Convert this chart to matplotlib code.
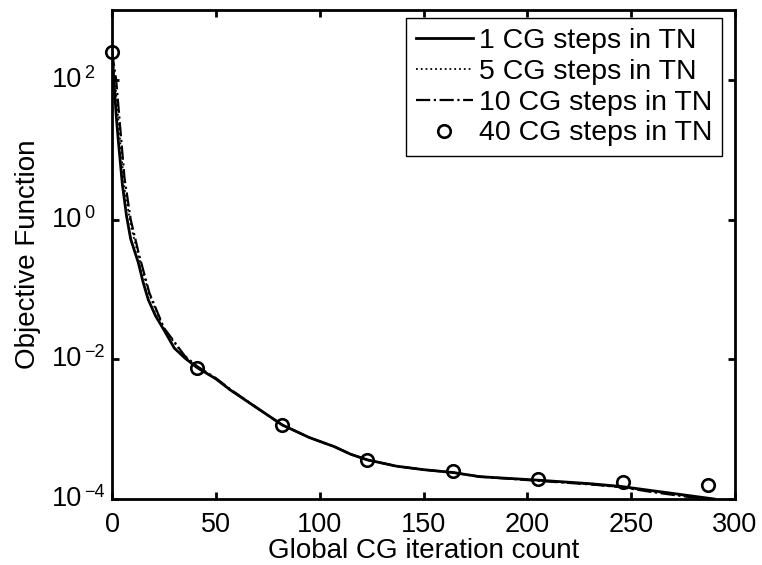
import numpy as np
import matplotlib
matplotlib.use("Agg")
import matplotlib.pyplot as plt
import matplotlib.transforms as mtransforms

plt.rcParams.update({"font.family": "Liberation Sans", "axes.linewidth": 2.0})

# values (log10 of the objective)
x_cg1 = [0, 1, 2, 3, 5, 7, 9, 12.7, 15, 17.5, 21, 25, 30, 35, 41, 50, 57, 70, 82, 95, 107,
         115, 123, 137, 150, 164, 177, 205, 230, 245, 260, 290]
lg_cg1 = [2.4, 1.95, 1.5, 1.14, 0.5, 0.05, -0.28, -0.62, -0.9, -1.15, -1.38, -1.58, -1.84,
          -1.98, -2.12, -2.28, -2.44, -2.7, -2.94, -3.12, -3.25, -3.36, -3.44, -3.53, -3.58,
          -3.62, -3.68, -3.73, -3.78, -3.82, -3.88, -4.0]
x_cg5 = [0, 2, 4, 6, 9, 13, 18, 25, 35, 41, 50, 57, 70, 82, 95, 107, 115, 123, 137, 150,
         164, 177, 205, 230, 245, 260, 290]
lg_cg5 = [2.4, 1.8, 1.1, 0.45, -0.08, -0.55, -1.08, -1.56, -1.96, -2.11, -2.28, -2.44,
          -2.7, -2.94, -3.12, -3.25, -3.36, -3.44, -3.53, -3.58, -3.62, -3.68, -3.73, -3.79,
          -3.83, -3.89, -4.01]
x_cg10 = [0, 2, 4, 6, 9, 13, 18, 25, 35, 41, 50, 57, 70, 82, 95, 107, 115, 123, 137, 150,
          164, 177, 205, 230, 245, 260, 290]
lg_cg10 = [2.4, 2.0, 1.3, 0.6, 0.0, -0.5, -1.05, -1.55, -1.95, -2.1, -2.27, -2.43, -2.7,
           -2.94, -3.12, -3.25, -3.36, -3.44, -3.53, -3.58, -3.62, -3.68, -3.74, -3.79,
           -3.83, -3.9, -4.02]
x_cg40 = [0, 41, 82, 123, 164, 205, 246, 287]
lg_cg40 = [2.4, -2.12, -2.94, -3.44, -3.60, -3.72, -3.76, -3.80]
y_exps = [-4, -2, 0, 2]

fig = plt.figure(figsize=(7.62, 5.65), dpi=100)
ax = fig.add_axes([0.147, 0.1168, 0.8176, 0.8655])
ax.plot(x_cg1, 10 ** np.array(lg_cg1), "k-", lw=2.0, label="1 CG steps in TN")
ax.plot(x_cg5, 10 ** np.array(lg_cg5), "k:", lw=1.3, label="5 CG steps in TN")
ax.plot(x_cg10, 10 ** np.array(lg_cg10), "k-.", lw=1.6, label="10 CG steps in TN")
ax.plot(x_cg40, 10 ** np.array(lg_cg40), "ko", ls="none", ms=9, mfc="none", mew=1.9,
        label="40 CG steps in TN", clip_on=False)
ax.set_yscale("log")
ax.set_xlim(0, 300)
ax.set_ylim(1e-4, 1e3)
ax.set_xticks(range(0, 301, 50))
ax.set_yticks([10.0 ** e for e in y_exps])
ax.set_yticklabels([])
ax.minorticks_off()
ax.tick_params(direction="in", top=True, right=True, length=5, width=2.0,
               labelsize=19.5, pad=9)

# MATLAB-style y labels: "10" right-aligned, exponent hanging to the right
tr = mtransforms.blended_transform_factory(ax.transAxes, ax.transData)
for e in y_exps:
    t10 = tr + mtransforms.ScaledTranslation(-30 / 100, 0, fig.dpi_scale_trans)
    ax.text(0, 10.0 ** e, "10", transform=t10, ha="right", va="center",
            fontsize=19.5, clip_on=False)
    tex = tr + mtransforms.ScaledTranslation(-28 / 100, 2 / 100, fig.dpi_scale_trans)
    ax.text(0, 10.0 ** e, str(e).replace("-", "\u2212"), transform=tex, ha="left",
            va="baseline", fontsize=13, clip_on=False)

ax.set_xlabel("Global CG iteration count", fontsize=20, labelpad=0)
ax.set_ylabel("Objective Function", fontsize=20, labelpad=42)
leg = ax.legend(loc="upper right", bbox_to_anchor=(1 - 13 / 623, 1 - 8 / 489),
                borderaxespad=0, fontsize=20.5, frameon=True, fancybox=False,
                edgecolor="k", framealpha=1, handlelength=2.0, labelspacing=0.17,
                handletextpad=0.2, borderpad=0.35)
leg.get_frame().set_linewidth(1.0)
fig.savefig("out.png", dpi=100)
